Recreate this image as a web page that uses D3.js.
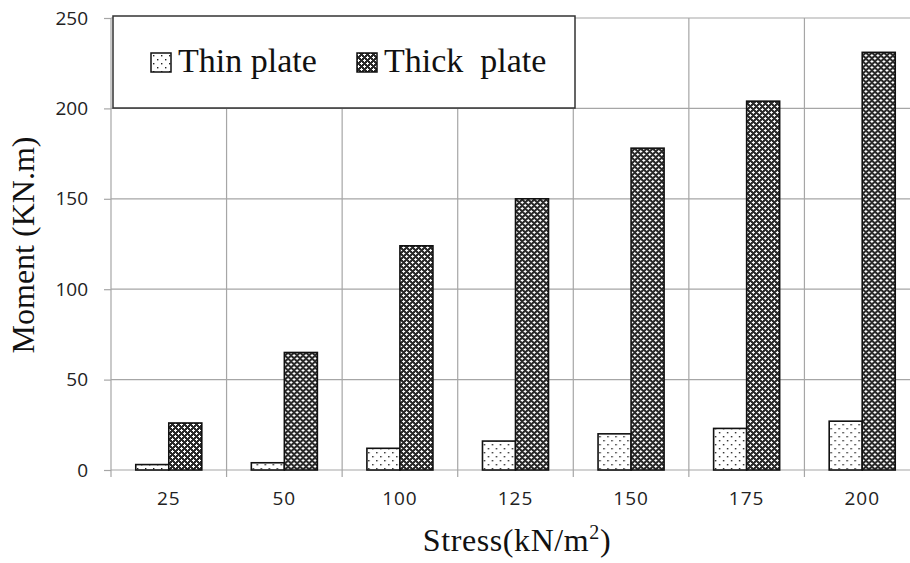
<!DOCTYPE html>
<html>
<head>
<meta charset="utf-8">
<script src="https://cdn.jsdelivr.net/npm/d3@7"></script>
<style>
  body { margin: 0; background: #fff; }
  svg { display: block; }
</style>
</head>
<body>
<svg id="chart" width="910" height="563"></svg>
<script>
// data
const categories = ['25', '50', '100', '125', '150', '175', '200'];
const thinPlate = [3, 4, 12, 16, 20, 23, 27];
const thickPlate = [26, 65, 124, 150, 178, 204, 231];
const yTicks = [0, 50, 100, 150, 200, 250];
const seriesNames = ['Thin plate', 'Thick  plate'];

const svg = d3.select('#chart');
const margin = { left: 111, top: 18, right: -10, bottom: 93 };
const width = 910 - margin.left - margin.right;
const height = 563 - margin.top - margin.bottom;

const defs = svg.append('defs');

// dotted fill for thin plate
const dots = defs.append('pattern')
  .attr('id', 'dots')
  .attr('patternUnits', 'userSpaceOnUse')
  .attr('width', 8).attr('height', 8);
dots.append('rect').attr('width', 8).attr('height', 8).attr('fill', '#fff');
dots.append('rect').attr('x', 2).attr('y', 2).attr('width', 1.4).attr('height', 1.4).attr('fill', '#222');
dots.append('rect').attr('x', 6).attr('y', 6).attr('width', 1.4).attr('height', 1.4).attr('fill', '#222');

// crosshatch fill for thick plate
const hatch = defs.append('pattern')
  .attr('id', 'hatch')
  .attr('patternUnits', 'userSpaceOnUse')
  .attr('width', 6).attr('height', 6);
hatch.append('rect').attr('width', 6).attr('height', 6).attr('fill', '#2a2a2a');
hatch.append('path').attr('d', 'M1,0h1v1h1v1h-1v1h-1v-1h-1v-1h1z').attr('fill', '#fff');
hatch.append('path').attr('d', 'M4,3h1v1h1v1h-1v1h-1v-1h-1v-1h1z').attr('fill', '#fff');

defs.append('clipPath').attr('id', 'clip')
  .append('rect').attr('x', -1).attr('y', -5).attr('width', 910 - margin.left + 1).attr('height', height + 20);

const g = svg.append('g')
  .attr('transform', `translate(${margin.left},${margin.top})`);

const x0 = d3.scaleBand().domain(categories).range([0, width]).paddingInner(0).paddingOuter(0);
const x1 = d3.scaleBand().domain([0, 1]).range([0, x0.bandwidth()]).paddingOuter(0.75).paddingInner(0);
const y = d3.scaleLinear().domain([0, 250]).range([height, 0]);

const plot = g.append('g').attr('clip-path', 'url(#clip)');

// horizontal gridlines
plot.append('g')
  .selectAll('line')
  .data(yTicks)
  .join('line')
  .attr('x1', 0).attr('x2', width)
  .attr('y1', d => y(d)).attr('y2', d => y(d))
  .attr('stroke', '#a6a6a6').attr('stroke-width', 1.2);

// vertical gridlines at category edges
plot.append('g')
  .selectAll('line')
  .data(categories.slice(1))
  .join('line')
  .attr('x1', d => x0(d)).attr('x2', d => x0(d))
  .attr('y1', 0).attr('y2', height + 7)
  .attr('stroke', '#a6a6a6').attr('stroke-width', 1.2);

// bars
const groups = plot.append('g')
  .selectAll('g')
  .data(categories)
  .join('g')
  .attr('transform', d => `translate(${x0(d)},0)`);

groups.selectAll('rect')
  .data((d, i) => [thinPlate[i], thickPlate[i]].map((v, s) => ({ v, s })))
  .join('rect')
  .attr('x', d => x1(d.s))
  .attr('y', d => y(d.v))
  .attr('width', x1.bandwidth())
  .attr('height', d => height - y(d.v))
  .attr('fill', d => d.s === 0 ? 'url(#dots)' : 'url(#hatch)')
  .attr('stroke', '#111').attr('stroke-width', 1.6);

// y axis
const yAxis = g.append('g')
  .call(d3.axisLeft(y).tickValues(yTicks).tickSize(7).tickPadding(16));
yAxis.select('.domain').attr('stroke', '#a6a6a6').attr('stroke-width', 1.2).attr('d', `M0,${height}V0`);
yAxis.selectAll('.tick line').attr('stroke', '#a6a6a6').attr('stroke-width', 1.2);
yAxis.selectAll('.tick text')
  .attr('fill', '#222')
  .style('font-family', '"Open Sans", "DejaVu Sans", sans-serif')
  .style('font-size', '19px');

// x axis labels
const xAxis = g.append('g')
  .attr('transform', `translate(0,${height})`)
  .call(d3.axisBottom(x0).tickSize(0).tickPadding(22));
xAxis.select('.domain').remove();
xAxis.selectAll('.tick text')
  .attr('fill', '#222')
  .style('font-family', '"Open Sans", "DejaVu Sans", sans-serif')
  .style('font-size', '19px')
  .style('letter-spacing', '1px');
g.append('line')
  .attr('x1', 0).attr('x2', 0).attr('y1', height).attr('y2', height + 7)
  .attr('stroke', '#a6a6a6').attr('stroke-width', 1.2);

// axis titles
svg.append('text')
  .attr('transform', 'translate(34,245) rotate(-90)')
  .attr('text-anchor', 'middle')
  .style('font-family', '"Liberation Serif", "Times New Roman", serif')
  .style('font-size', '32px')
  .attr('fill', '#111')
  .text('Moment (KN.m)');

const xt = svg.append('text')
  .attr('x', 517).attr('y', 551)
  .attr('text-anchor', 'middle')
  .style('font-family', '"Liberation Serif", "Times New Roman", serif')
  .style('font-size', '32px')
  .style('letter-spacing', '0.6px')
  .attr('fill', '#111');
xt.append('tspan').text('Stress(kN/m');
xt.append('tspan').attr('dy', -12).style('font-size', '20px').text('2');
xt.append('tspan').attr('dy', 12).text(')');

// legend
const legend = svg.append('g');
legend.append('rect')
  .attr('x', 113).attr('y', 16).attr('width', 462).attr('height', 92)
  .attr('fill', '#fff').attr('stroke', '#333').attr('stroke-width', 1.5);

const legendX = [151, 357];
const items = legend.selectAll('g.item')
  .data(seriesNames)
  .join('g')
  .attr('class', 'item')
  .attr('transform', (d, i) => `translate(${legendX[i]},53)`);
items.append('rect')
  .attr('width', 20).attr('height', 19)
  .attr('fill', (d, i) => i === 0 ? 'url(#dots)' : 'url(#hatch)')
  .attr('stroke', '#111').attr('stroke-width', 1.5);
items.append('text')
  .attr('x', 27).attr('y', 19)
  .style('font-family', '"Liberation Serif", "Times New Roman", serif')
  .style('font-size', '34px')
  .style('white-space', 'pre')
  .attr('fill', '#111')
  .text(d => d);
</script>
</body>
</html>
